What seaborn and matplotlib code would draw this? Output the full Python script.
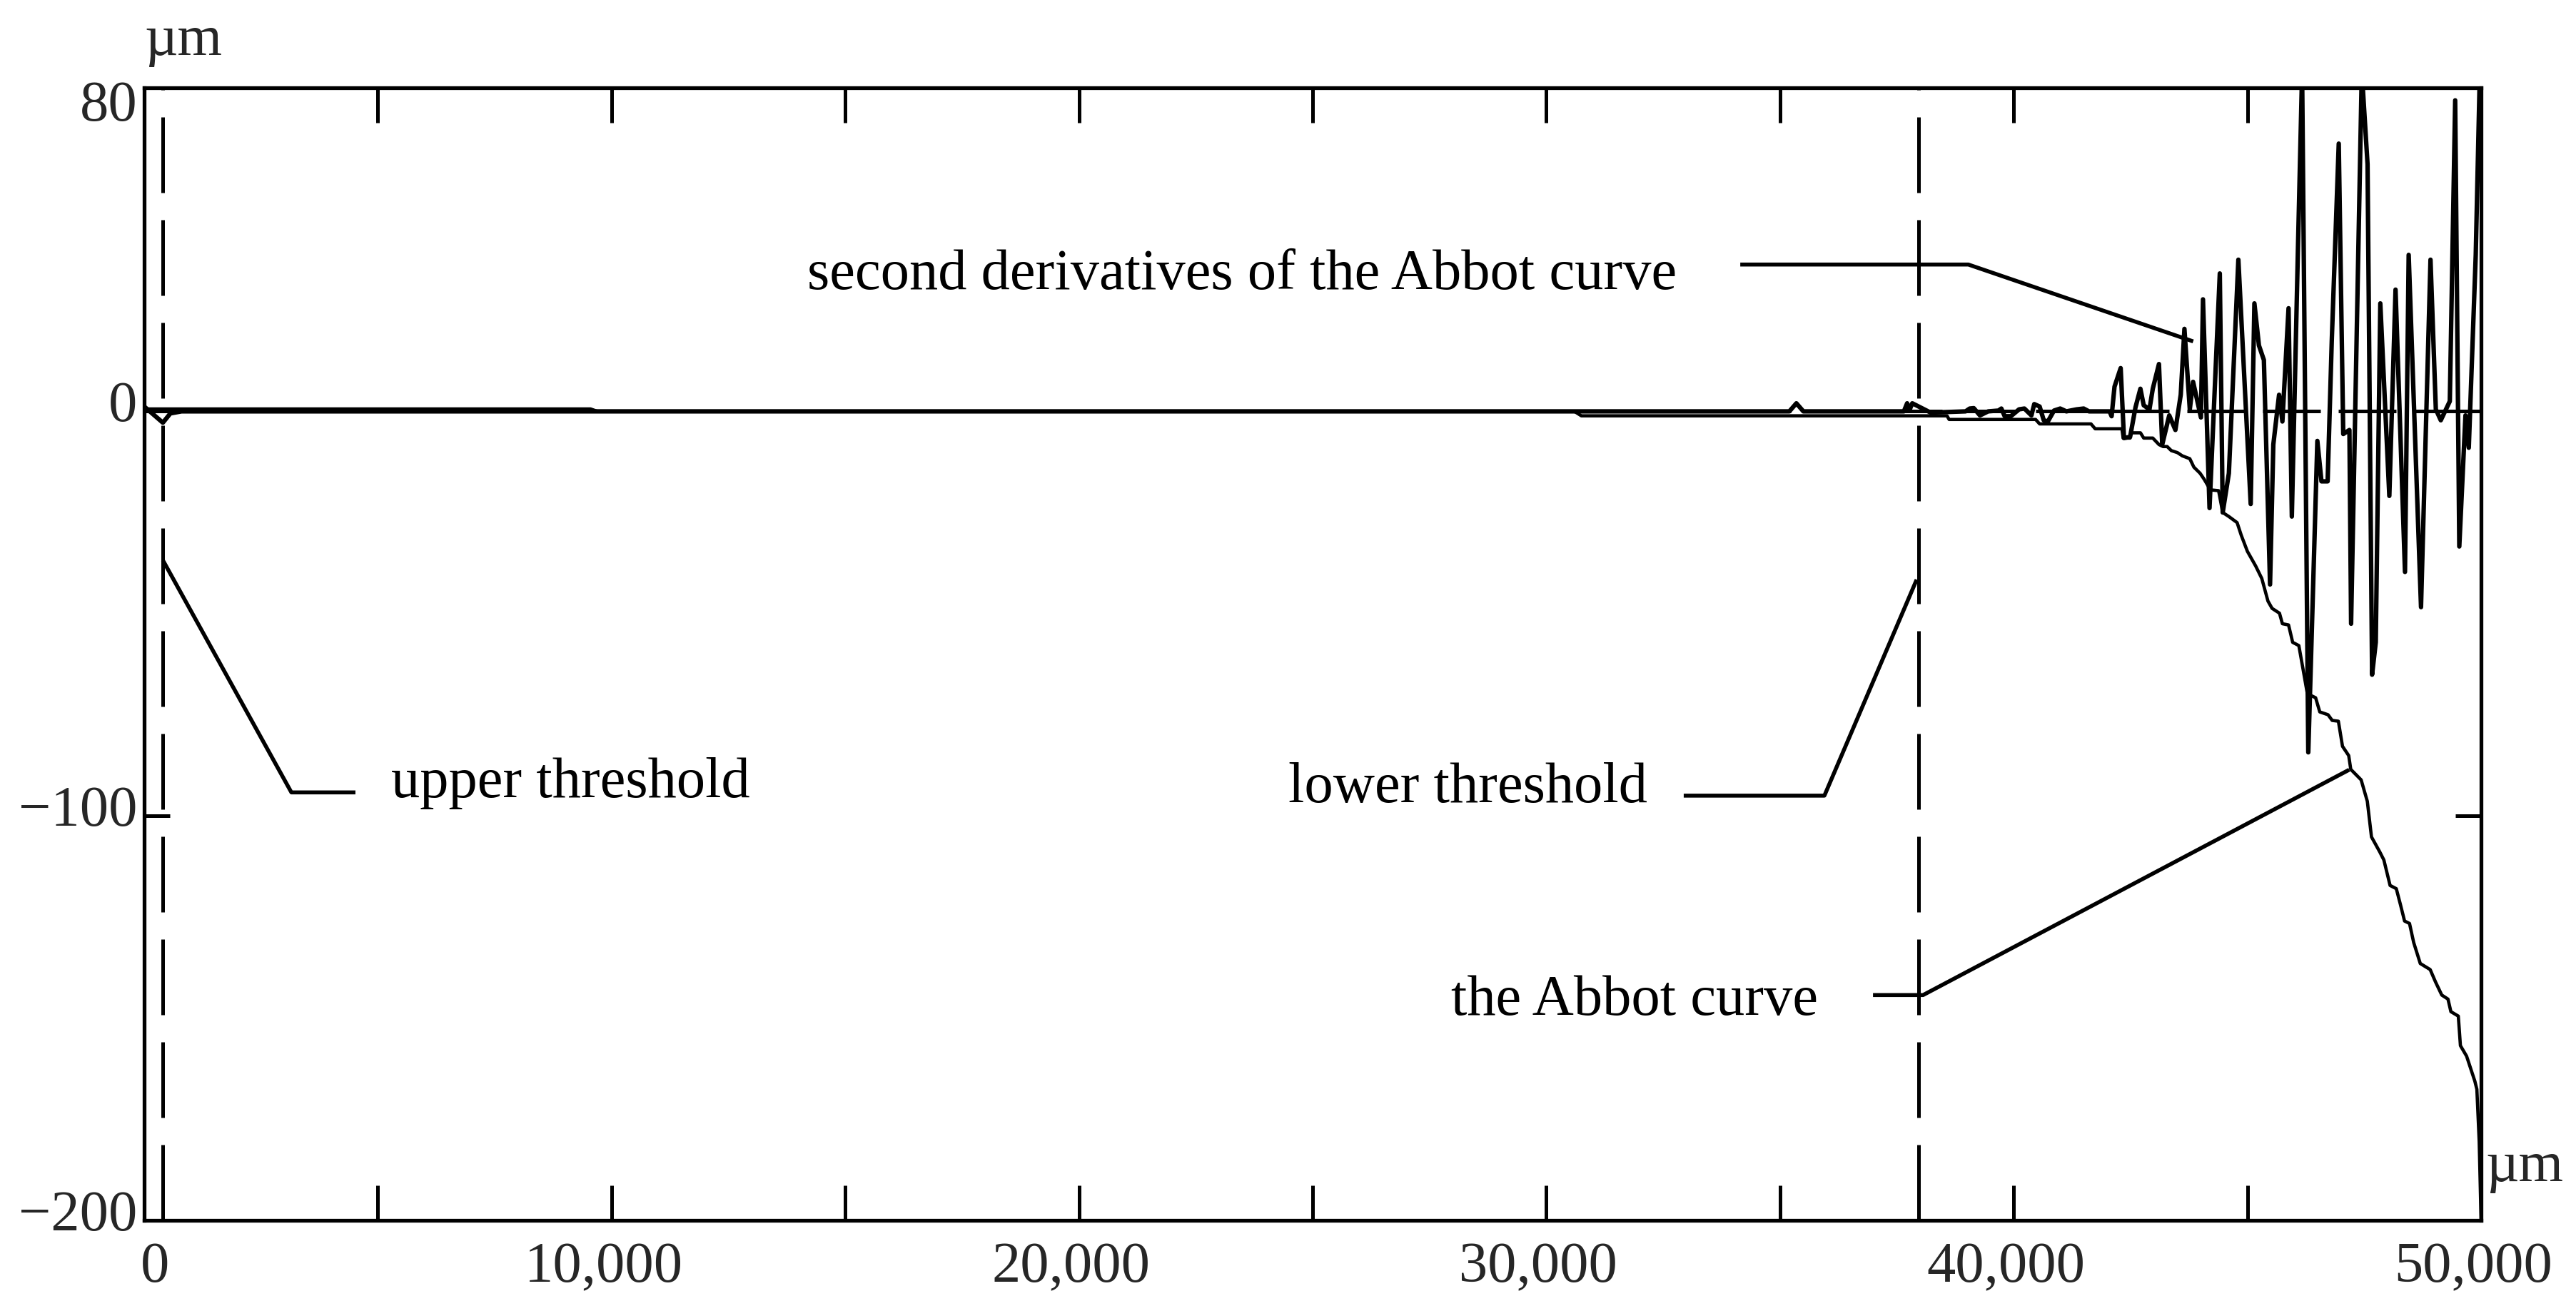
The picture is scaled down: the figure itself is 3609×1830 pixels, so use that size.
import matplotlib
matplotlib.use("Agg")
import matplotlib.pyplot as plt
import matplotlib.transforms as mtransforms
import seaborn as sns

# second derivatives of the Abbot curve (um)
deriv_x = [0, 400, 560, 800, 35200, 35350, 35500, 37650, 37720, 37770, 37830, 38222,
           38970, 39058, 39146, 39278, 39454, 39674, 39736, 39807, 39939, 40115, 40229,
           40379, 40440, 40555, 40643, 40731, 40863, 40995, 41127, 41347, 41497, 41611,
           42051, 42095, 42157, 42289, 42359, 42491, 42606, 42711, 42782, 42905, 42976,
           43108, 43178, 43328, 43460, 43574, 43653, 43768, 43838, 43900, 44006, 44050,
           44190, 44410, 44472, 44604, 44807, 45071, 45150, 45247, 45353, 45485, 45555,
           45678, 45749, 45881, 45951, 46083, 46171, 46303, 46497, 46585, 46717, 46805,
           46955, 47051, 47183, 47219, 47448, 47571, 47668, 47747, 47844, 48037, 48170,
           48372, 48451, 48715, 48918, 49032, 49138, 49331, 49446, 49534, 49666, 49737,
           49886, 49974, 50000]
deriv_y = [1.2, -2.8, -0.5, 0, 0, 2.0, 0, 0, 2.0, 0.3, 2.0, -0.3,
           0, 0.7, 0.8, -1.0, 0, 0.2, 0.7, -1.2, -1.2, 0.5, 0.7,
           -1.0, 1.8, 1.2, -2.2, -2.5, 0.2, 0.7, 0, 0.5, 0.7, 0,
           0, -1.2, 6.1, 10.7, -6.6, -6.3, 1.0, 5.6, 1.5, 0.5, 5.6,
           11.7, -8.2, -1.0, -4.6, 4.1, 20.4, 0.5, 7.3, 4.1, -1.5, 27.7,
           -23.9, 34.1, -25.0, -15.3, 37.5, -22.9, 26.7, 16.3, 12.7, -42.8, -8.2,
           4.1, -2.5, 25.5, -26.0, 40.8, 84, -84.3, -7.3, -17.3, -17.3, 17.3,
           66.2, -5.6, -4.6, -52.5, 84, 61.1, -65.1, -57.1, 26.7, -20.9, 30.1,
           -39.7, 38.7, -48.4, 37.5, 0.5, -2.2, 2.5, 76.9, -33.4, -1.0, -9.0,
           38.7, 84, 84]

# the Abbot curve (um)
abbot_x = [0, 9550, 9700, 30600, 30750, 38574, 38618, 38706, 40469, 40555, 41654,
           41743, 42315, 42342, 42491, 42509, 42712, 42782, 42976, 43108, 43196,
           43284, 43372, 43504, 43609, 43768, 43856, 43988, 44076, 44208, 44384,
           44472, 44604, 44780, 44868, 45000, 45176, 45308, 45440, 45528, 45687,
           45749, 45881, 45969, 46101, 46195, 46283, 46460, 46549, 46726, 46814,
           46947, 47035, 47168, 47212, 47434, 47566, 47655, 47832, 47920, 48053,
           48186, 48274, 48363, 48469, 48558, 48699, 48911, 49027, 49159, 49292,
           49354, 49513, 49558, 49690, 49867, 49910, 49960, 50000]
abbot_y = [0.6, 0.6, 0, 0, -1.1, -1.1, -2.0, -2.0, -2.0, -3.1, -3.1,
           -4.3, -4.3, -6.6, -6.6, -5.3, -5.3, -6.6, -6.6, -8.2, -8.7,
           -8.7, -9.7, -10.2, -11.0, -11.7, -13.8, -15.3, -16.8, -19.4, -19.6,
           -25.0, -26.0, -27.5, -30.6, -34.6, -38.2, -41.3, -46.9, -48.7, -49.9,
           -52.5, -52.8, -57.1, -57.9, -64.0, -69.8, -70.8, -74.3, -75.0, -76.4,
           -76.6, -82.8, -85.1, -88.5, -91.1, -96.4, -105.2, -108.9, -110.9, -117.2,
           -118.0, -121.9, -126.0, -126.6, -131.3, -136.5, -138.0, -141.1, -144.3, -145.3,
           -148.4, -149.5, -156.8, -159.4, -165.6, -167.6, -180.5, -200.0]

thresholds = [400, 37970]  # upper, lower

x_ticks = [0, 10000, 20000, 30000, 40000, 50000]
x_tick_labels = ["0", "10,000", "20,000", "30,000", "40,000", "50,000"]
x_minor = [5000, 15000, 25000, 35000, 45000]
y_ticks = [80, 0, -100, -200]
y_tick_labels = ["80", "0", "\u2212100", "\u2212200"]

# labels and their leader lines (data coords)
notes = [
    ("second derivatives of the Abbot curve", 14190, 30.5, "left",
     [34150, 39030, 43840], [36.3, 36.3, 17.3]),
    ("upper threshold", 5290, -95.2, "left",
     [400, 3150, 4520], [-36.8, -94.2, -94.2]),
    ("lower threshold", 32160, -96.4, "right",
     [32940, 35950, 37924], [-95.0, -95.0, -41.6]),
    ("the Abbot curve", 35810, -149.0, "right",
     [36990, 38061, 47179], [-144.3, -144.3, -88.6]),
]

sns.set_theme(style="white")
plt.rcParams["font.family"] = ["Liberation Serif", "DejaVu Serif"]
plt.rcParams["axes.unicode_minus"] = True

FS = 58

fig = plt.figure(figsize=(36.09, 18.31), dpi=100)
ax = fig.add_axes([0.05597, 0.06554, 0.90718, 0.86674])

ax.axhline(0, color="black", lw=3.6, dashes=(16.2, 5.0), zorder=1)
for t in thresholds:
    ax.axvline(t, color="black", lw=3.6, dashes=(21.2, 7.6), zorder=1)

sns.lineplot(x=abbot_x, y=abbot_y, ax=ax, color="black", linewidth=3.3,
             estimator=None, sort=False, zorder=3)
sns.lineplot(x=deriv_x, y=deriv_y, ax=ax, color="black", linewidth=4.5,
             estimator=None, sort=False, zorder=4)

for text, tx, ty, ha, lx, ly in notes:
    ax.text(tx, ty, text, fontsize=FS, ha=ha, va="baseline", color="black")
    ax.plot(lx, ly, color="black", lw=4.0, solid_capstyle="butt", zorder=5)

ax.set_xlim(0, 50000)
ax.set_ylim(-200, 80)

ax.set_xticks(x_ticks)
ax.set_xticklabels(x_tick_labels)
ax.set_xticks(x_minor, minor=True)
ax.set_yticks(y_ticks)
ax.set_yticklabels(y_tick_labels)

ax.tick_params(axis="x", which="both", direction="in", length=35, width=3.6,
               top=True, bottom=True, labelsize=FS, pad=21, color="black")
ax.tick_params(axis="y", which="both", direction="in", length=26, width=3.6,
               left=True, right=True, labelsize=FS, pad=7, color="black")

for sp in ax.spines.values():
    sp.set_linewidth(3.8)
    sp.set_color("black")
    sp.set_visible(True)

# nudge tick labels like the original
for i, lab in enumerate(ax.get_yticklabels()):
    dy = -12.6 if i == 0 else 10.8
    lab.set_transform(lab.get_transform() +
                      mtransforms.ScaledTranslation(0, dy / 72, fig.dpi_scale_trans))
for i, lab in enumerate(ax.get_xticklabels()):
    dx = 10.8 if i == 0 else -7.9
    lab.set_transform(lab.get_transform() +
                      mtransforms.ScaledTranslation(dx / 72, 0, fig.dpi_scale_trans))

# unit labels
ax.text(0.0, 1.0296, "\u00b5m", transform=ax.transAxes, fontsize=FS,
        ha="left", va="baseline")
ax.text(1.0018, 0.0353, "\u00b5m", transform=ax.transAxes, fontsize=FS,
        ha="left", va="baseline")

ax.grid(False)
ax.set_facecolor("white")
fig.patch.set_facecolor("white")

fig.savefig("out.png", dpi=100)
